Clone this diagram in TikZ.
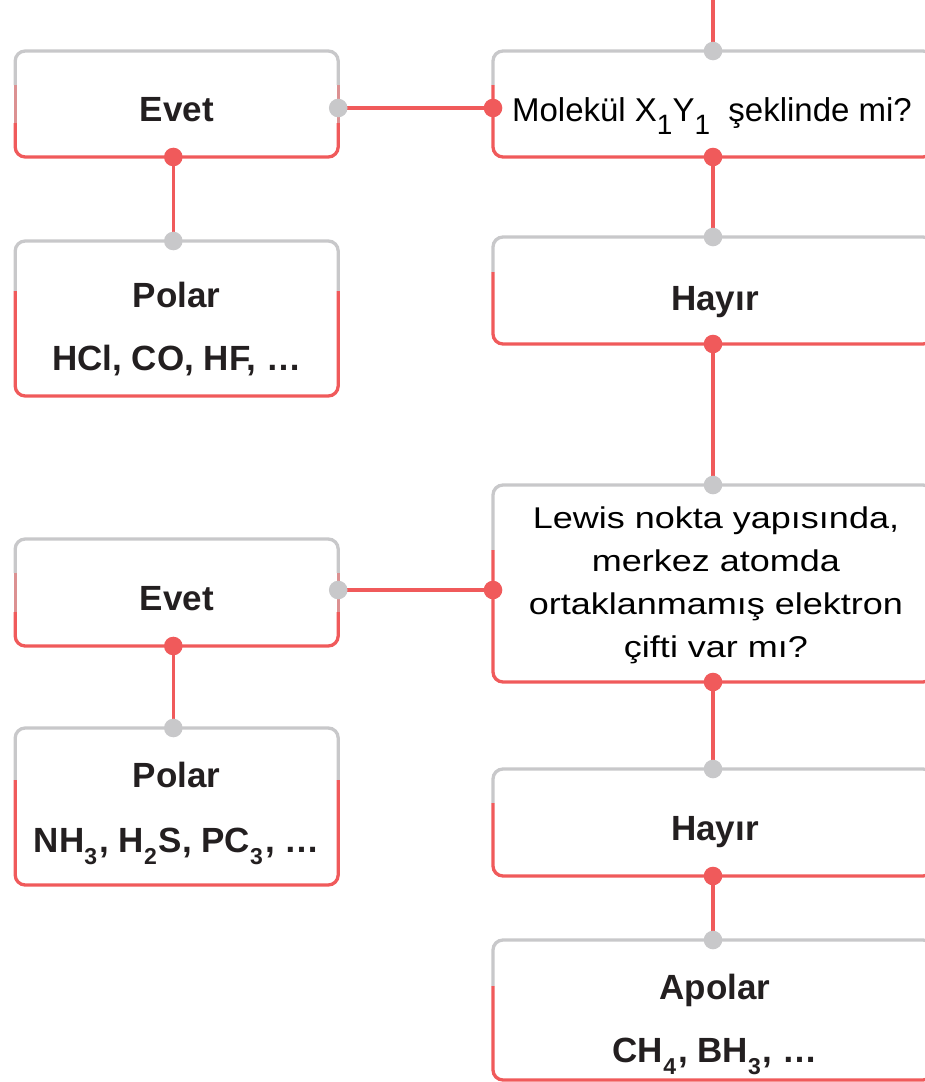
\documentclass[tikz,border=0pt]{standalone}
\usepackage{fontspec}
\setmainfont{Liberation Sans}
\newfontfamily\lewisfont[FakeStretch=1.2]{Liberation Sans}
\usetikzlibrary{calc}
\definecolor{lred}{HTML}{F05A5B}
\definecolor{lgray}{HTML}{C8C8CA}
\definecolor{ink}{HTML}{231F20}
\colorlet{lmix}{lred!50!lgray}
\newcommand\sbb[1]{\raisebox{-12pt}{\fontsize{23}{23}\selectfont #1}\kern2pt}
\newcommand\sbm[1]{\raisebox{-13pt}{\fontsize{28}{28}\selectfont #1}}
\newcommand\frameit[3]{%
  \draw[gline] ([yshift=-#2]#1.north west) -- (#1.north west) -- (#1.north east) -- ([yshift=-#2]#1.north east);
  \draw[mline] ([yshift=-#2]#1.north west) -- ([yshift=-#3]#1.north west);
  \draw[mline] ([yshift=-#2]#1.north east) -- ([yshift=-#3]#1.north east);
  \draw[rline] ([yshift=-#3]#1.north west) -- (#1.south west) -- (#1.south east) -- ([yshift=-#3]#1.north east);
}
\tikzset{
  boxl/.style={rectangle, inner sep=0pt, outer sep=0pt, minimum width=323pt},
  boxr/.style={rectangle, inner sep=0pt, outer sep=0pt, minimum width=440pt},
  gline/.style={draw=lgray, line width=3.3pt, rounded corners=10pt},
  rline/.style={draw=lred, line width=3.3pt, rounded corners=10pt},
  mline/.style={draw=lmix, line width=3.3pt},
  conn/.style={draw=lred, line width=3.5pt},
  bold/.style={text=ink, font=\fontsize{35}{63}\selectfont\bfseries, inner sep=0pt, align=center},
  plain/.style={text=black, inner sep=0pt, align=center},
}
\begin{document}
\begin{tikzpicture}[x=1pt,y=-1pt]
\useasboundingbox (0,0) rectangle (925,1082);
\clip (0,0) rectangle (925,1082);
% boxes
\node[boxl, minimum height=106pt] (e1) at (176.7,104) {};
\node[boxl, minimum height=155pt] (p1) at (176.7,318.5) {};
\node[boxl, minimum height=107pt] (e2) at (176.7,592.5) {};
\node[boxl, minimum height=157pt] (p2) at (176.7,806.5) {};
\node[boxr, minimum height=106pt] (m) at (713,104) {};
\node[boxr, minimum height=107pt] (h1) at (713,290.5) {};
\node[boxr, minimum height=197pt] (l) at (713,583.5) {};
\node[boxr, minimum height=107pt] (h2) at (713,822.5) {};
\node[boxr, minimum height=140pt] (a) at (713,1010) {};
% frames
\frameit{e1}{34pt}{72pt}
\frameit{p1}{50pt}{50pt}
\frameit{e2}{34pt}{73pt}
\frameit{p2}{52pt}{52pt}
\frameit{m}{34pt}{34pt}
\frameit{h1}{35pt}{35pt}
\frameit{l}{65pt}{65pt}
\frameit{h2}{34pt}{34pt}
\frameit{a}{46pt}{46pt}
% helper coordinates
\coordinate (top) at (713,0);
\coordinate (mw) at ([yshift=-4pt]m.west);
\coordinate (lw) at ([yshift=-6.5pt]l.west);
\coordinate (e1s) at ([xshift=-3.4pt]e1.south);
\coordinate (p1n) at ([xshift=-3.4pt]p1.north);
\coordinate (e2s) at ([xshift=-3.4pt]e2.south);
\coordinate (p2n) at ([xshift=-3.4pt]p2.north);
% connectors
\draw[conn] (top) -- (m.north);
\draw[conn] (m.south) -- (h1.north);
\draw[conn] (mw) -- (e1.east |- mw);
\draw[conn] (e1s) -- (p1n);
\draw[conn] (h1.south) -- (l.north);
\draw[conn] (lw) -- (e2.east |- lw);
\draw[conn] (e2s) -- (p2n);
\draw[conn] (l.south) -- (h2.north);
\draw[conn] (h2.south) -- (a.north);
% dots
\foreach \p in {m.south, mw, e1s, h1.south, lw, e2s, l.south, h2.south}
  \fill[lred] (\p) circle (9.3pt);
\foreach \p in {m.north, p1n, h1.north, l.north, p2n, h2.north, a.north}
  \fill[lgray] (\p) circle (9.3pt);
\fill[lgray] (e1.east |- mw) circle (9.3pt);
\fill[lgray] (e2.east |- lw) circle (9.3pt);
% texts
\node[bold, anchor=base] (e1t) at (176.7,121.7) {Evet};
\node[bold, anchor=base] (e2t) at (176.7,610) {Evet};
\node[bold, anchor=base] (h1t) at (715,310) {Hayır};
\node[bold, anchor=base] (h2t) at (715,840.7) {Hayır};
\node[bold] (p1t) at (176.7,329) {Polar\\HCl, CO, HF, …};
\node[bold, font=\fontsize{35}{65}\selectfont\bfseries] (p2t) at (176.7,813) {Polar\\NH\sbb{3}, H\sbb{2}S, PC\sbb{3}, …};
\node[bold] (at) at (715,1024) {Apolar\\CH\sbb{4}, BH\sbb{3}, …};
\node[plain, anchor=base, font=\fontsize{33}{33}\selectfont] (mt) at (712,121.7) {Molekül X\sbm{1}Y\sbm{1}\ \ şeklinde mi?};
\node[plain, font=\lewisfont\fontsize{30}{43}\selectfont] (lt) at (716,585.5) {Lewis nokta yapısında,\\merkez atomda\\ortaklanmamış elektron\\çifti var mı?};
\end{tikzpicture}
\end{document}
